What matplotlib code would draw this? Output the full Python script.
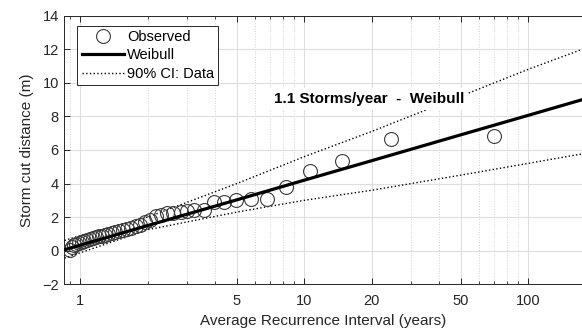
import matplotlib
matplotlib.use("Agg")
import matplotlib.pyplot as plt
from matplotlib.ticker import FixedLocator, NullFormatter, LogLocator

plt.rcParams['font.family'] = ['Liberation Sans', 'DejaVu Sans']

# Observed storms (return period in years, cut distance in m)
obs_T = [70, 24.4, 14.8, 10.6, 8.3, 6.8, 5.75, 4.97, 4.4, 3.95, 3.55, 3.22, 3.0,
         2.8, 2.6, 2.44, 2.3, 2.17, 2.05, 1.94, 1.85, 1.77, 1.69, 1.62, 1.55,
         1.49, 1.43, 1.38, 1.33, 1.29, 1.25, 1.21, 1.17, 1.14, 1.1, 1.07, 1.04,
         1.02, 0.99, 0.96, 0.94, 0.92, 0.90]
obs_y = [6.8, 6.67, 5.36, 4.77, 3.78, 3.05, 3.05, 3.0, 2.92, 2.88, 2.45, 2.4, 2.35,
         2.3, 2.25, 2.22, 2.15, 2.05, 1.85, 1.7, 1.55, 1.45, 1.38, 1.3, 1.22,
         1.15, 1.1, 1.05, 1.0, 0.95, 0.9, 0.85, 0.8, 0.75, 0.7, 0.65, 0.58,
         0.5, 0.45, 0.4, 0.32, 0.25, 0.05]

# Weibull fit and 90% confidence interval
fit_T = [0.85, 1, 2, 5, 10, 20, 50, 100, 175]
fit_y = [0.06, 0.33, 1.5, 3.03, 4.2, 5.36, 6.9, 8.06, 9.0]
ci_hi = [0.61, 0.9, 2.0, 4.0, 5.6, 7.1, 9.2, 10.8, 12.0]
ci_lo = [-0.44, -0.12, 1.25, 2.3, 3.0, 3.6, 4.5, 5.2, 5.77]

xticks = [1, 5, 10, 20, 50, 100]
yticks = [-2, 0, 2, 4, 6, 8, 10, 12, 14]

fig = plt.figure(figsize=(5.82, 3.35), dpi=100)
ax = fig.add_axes([0.1105, 0.1513, 0.8895, 0.8024])

ax.plot(obs_T, obs_y, 'o', mfc='none', mec='#3a3a3a', mew=0.8, ms=10,
        label='Observed', zorder=3)
ax.plot(fit_T, fit_y, '-', color='black', lw=2.3, label='Weibull', zorder=4)
ax.plot(fit_T, ci_hi, ':', color='black', lw=1.0, label='90% CI: Data', zorder=2)
ax.plot(fit_T, ci_lo, ':', color='black', lw=1.0, zorder=2)

ax.set_xscale('log')
ax.set_xlim(0.848, 173.6)
ax.set_ylim(-2, 14)
ax.xaxis.set_major_locator(FixedLocator(xticks))
ax.set_xticklabels([str(t) for t in xticks])
ax.xaxis.set_minor_locator(LogLocator(base=10, subs=range(1, 10)))
ax.xaxis.set_minor_formatter(NullFormatter())
ax.set_yticks(yticks)

ax.grid(True, which='major', color='#dedede', lw=0.8, ls='-')
ax.grid(True, which='minor', axis='x', color='#d0d0d0', lw=0.7, ls=':')
ax.set_axisbelow(True)

ax.tick_params(which='both', direction='in', top=True, right=False,
               colors='#262626', labelsize=10.5, labelcolor='#262626')
ax.tick_params(which='major', length=4, width=0.7)
ax.tick_params(which='minor', length=2.5, width=0.6)
ax.tick_params(axis='x', which='major', pad=7)
ax.tick_params(axis='y', which='major', pad=4)
for s in ['left', 'bottom', 'top']:
    ax.spines[s].set_color('#262626')
    ax.spines[s].set_linewidth(0.7)
ax.spines['right'].set_visible(False)

ax.set_xlabel('Average Recurrence Interval (years)', fontsize=11, color='#262626',
              labelpad=4)
ax.set_ylabel('Storm cut distance (m)', fontsize=11, color='#262626', labelpad=6)

ax.text(19.4, 9.05, '1.1 Storms/year  -  Weibull', fontsize=11, fontweight='bold',
        ha='center', va='center', zorder=5,
        bbox=dict(facecolor='white', edgecolor='none', pad=3))

leg = ax.legend(loc='upper left', bbox_to_anchor=(0.025, 0.962), fontsize=10.5,
                frameon=True, fancybox=False, edgecolor='#262626', framealpha=1,
                handlelength=2.9, handletextpad=0.2, borderpad=0.3,
                labelspacing=0.3, borderaxespad=0)
leg.get_frame().set_linewidth(0.7)

fig.savefig('out.png', dpi=100)
